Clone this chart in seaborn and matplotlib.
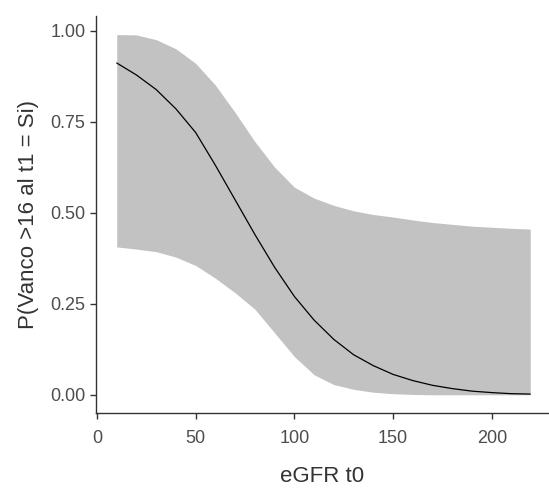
import matplotlib
matplotlib.use("Agg")
import matplotlib.pyplot as plt
import seaborn as sns
import pandas as pd

# valores (prob. predicha y banda de confianza)
egfr = [10, 20, 30, 40, 50, 60, 70, 80, 90, 100, 110, 120, 130, 140, 150,
        160, 170, 180, 190, 200, 210, 219.5]
prob = [0.911, 0.878, 0.838, 0.785, 0.72, 0.63, 0.535, 0.44, 0.35, 0.27, 0.205,
        0.152, 0.11, 0.08, 0.056, 0.039, 0.026, 0.017, 0.010, 0.006, 0.003, 0.002]
upper = [0.989, 0.988, 0.975, 0.95, 0.91, 0.85, 0.775, 0.695, 0.625, 0.57, 0.54,
         0.52, 0.505, 0.495, 0.488, 0.48, 0.473, 0.468, 0.463, 0.46, 0.457, 0.455]
lower = [0.406, 0.40, 0.393, 0.378, 0.355, 0.32, 0.28, 0.235, 0.17, 0.105, 0.055,
         0.028, 0.015, 0.007, 0.003, 0.001, 0.0, 0.0, 0.0, 0.0, 0.0, 0.0]

df = pd.DataFrame({"egfr": egfr, "prob": prob, "upper": upper, "lower": lower})

sns.set_style("ticks")
plt.rcParams["font.family"] = ["Liberation Sans", "DejaVu Sans"]

fig = plt.figure(figsize=(5.49, 4.93), dpi=100)
ax = fig.add_axes([96 / 549, 80 / 493, 453 / 549, 397 / 493])

ax.fill_between(df["egfr"], df["lower"], df["upper"], color="#c2c2c2", linewidth=0)
sns.lineplot(data=df, x="egfr", y="prob", color="black", linewidth=0.9, ax=ax)

ax.set_xlim(-0.5, 229)
ax.set_ylim(-0.05, 1.04)
ax.set_xticks([0, 50, 100, 150, 200])
ax.set_yticks([0, 0.25, 0.5, 0.75, 1.0])
ax.set_yticklabels(["0.00", "0.25", "0.50", "0.75", "1.00"])

ax.set_xlabel("eGFR t0", fontsize=16, color="#333333", labelpad=14)
ax.set_ylabel("P(Vanco >16 al t1 = Si)", fontsize=16, color="#333333", labelpad=8)
ax.tick_params(axis="both", labelsize=13, labelcolor="#4d4d4d", colors="#333333",
               length=4, width=1)
ax.tick_params(axis="x", pad=8)
for s in ["left", "bottom"]:
    ax.spines[s].set_color("#333333")
    ax.spines[s].set_linewidth(1)
sns.despine(ax=ax)

fig.savefig("out.png", dpi=100)
